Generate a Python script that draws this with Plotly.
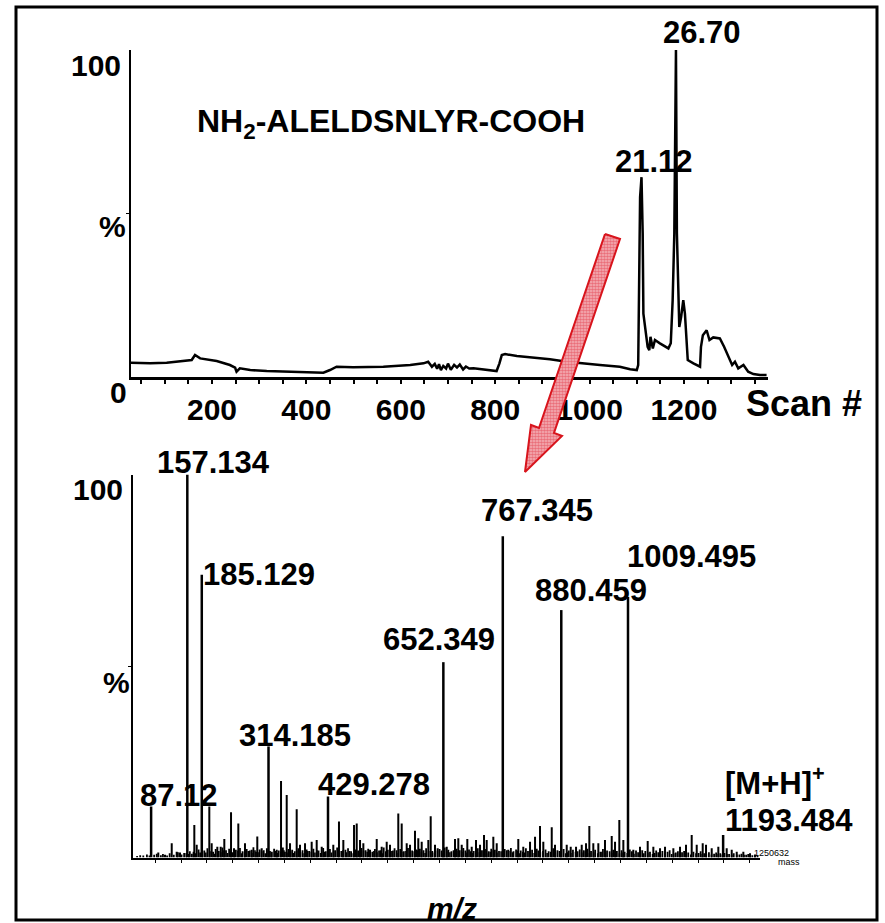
import plotly.graph_objects as go

W, H = 885, 923
FONT = "Arial, Liberation Sans, sans-serif"

# ---------------- top panel: chromatogram (scan # vs %) ----------------
scan = [28, 69, 104, 146, 157, 164, 175, 210, 238, 249,
        252, 259, 281, 316, 358, 401, 436, 450, 464, 499,
        563, 620, 648, 658, 666,
        672, 677, 681, 685, 690, 696, 700, 706, 713, 719, 725, 732, 738, 745,
        754, 803, 809, 814, 821, 846, 916, 952, 1022, 1064, 1086, 1100, 1103,
        1105, 1107, 1110, 1112.5, 1114, 1116, 1119, 1123, 1126.5, 1129, 1134, 1138.5,
        1149, 1167, 1172, 1176, 1179.5, 1183,
        1185, 1187, 1189, 1190, 1194, 1198.5, 1202, 1205, 1208, 1220, 1234, 1236,
        1240, 1248, 1254, 1262, 1276, 1285, 1294, 1302, 1308, 1315, 1326, 1336,
        1347, 1361, 1375]
tic = [4.36, 4.18, 4.36, 4.88, 5.18, 6.71, 5.70, 4.88, 3.66, 2.84,
       1.62, 2.65, 2.13, 1.83, 1.62, 1.43, 1.31, 2.13, 3.14, 2.96,
       3.14, 3.66, 4.18, 4.67, 3.14,
       4.0, 2.5, 3.9, 2.1, 3.4, 2.6, 4.1, 2.2, 3.7, 2.9, 3.8, 2.3, 3.2, 2.6,
       2.65, 1.83, 4.18, 6.71, 7.01, 6.40, 5.40, 4.67, 3.66, 3.14, 2.35, 2.13, 3.66,
       33.6, 55.0, 61.1, 43.9, 19.4, 17.4, 13.4, 9.24, 8.23, 12.3, 8.75, 11.3,
       10.3, 8.75, 10.3, 23.5, 43.8, 100.0,
       43.9, 28.6, 23.5, 15.3, 18.4, 23.5, 19.4, 12.3, 5.18, 4.18, 3.14, 9.24,
       12.8, 14.3, 11.3, 12.1, 11.8, 9.24, 6.19, 3.66, 4.67, 2.65, 3.66, 1.62,
       0.91, 0.61, 0.61]
scan_ticks = [200, 400, 600, 800, 1000, 1200]

# ---------------- bottom panel: MS/MS spectrum (m/z vs %) ----------------
major_mz = [87.12, 157.134, 185.129, 314.185, 429.278, 652.349, 767.345, 880.459, 1009.495, 1193.484]
major_int = [13.3, 100.0, 73.8, 29.0, 15.9, 51.0, 83.9, 64.6, 68.0, 5.9]

minor_mz = [101.0, 114.0, 127.0, 136.6, 143.0, 170.7, 175.3, 199.7, 204.3, 215.2,
            221.7, 228.7, 241.7, 247.5, 255.8, 268.7, 281.7, 292.5, 301.0, 320.4,
            330.0, 338.4, 349.4, 355.8, 368.7, 375.1, 384.8, 397.7, 407.4, 417.1,
            439.5, 450.5, 458.9, 479.6, 484.8, 491.2, 497.6, 510.5, 523.5, 533.1,
            542.8, 549.2, 565.2, 571.8, 581.5, 587.9, 597.5, 603.9, 610.5, 623.3,
            627.9, 636.2, 641.4, 658.9, 674.9, 681.3, 687.9, 698.7, 707.2, 715.5,
            723.3, 731.0, 736.2, 749.0, 755.6, 778.0, 797.3, 807.0, 820.0, 829.7,
            839.3, 845.7, 862.0, 868.3, 891.0, 898.7, 909.0, 920.0, 928.3, 934.7,
            942.4, 952.1, 965.0, 978.0, 984.4, 992.7, 1000.5, 1019.8, 1032.7, 1047.6,
            1058.5, 1071.4, 1081.1, 1097.2, 1110.1, 1121.7, 1132.7, 1142.4, 1154.0, 1160.4,
            1171.4, 1184.2, 1200.4, 1210.1, 1219.8, 1232.6, 1245.5, 1255.2]
minor_int = [1.3, 0.7, 3.7, 1.5, 1.3, 8.5, 3.3, 13.3, 3.7, 2.8,
             2.8, 4.8, 11.8, 2.4, 8.9, 3.7, 2.0, 5.5, 2.4, 1.5,
             2.0, 20.0, 16.3, 3.7, 12.6, 3.3, 3.7, 4.1, 4.6, 2.8,
             3.3, 9.4, 4.6, 8.5, 8.9, 4.6, 3.7, 2.0, 4.8, 2.8,
             4.1, 3.3, 11.5, 8.9, 3.7, 3.3, 7.0, 5.0, 4.1, 4.6,
             10.8, 3.3, 2.4, 2.8, 4.8, 5.0, 3.3, 4.8, 2.8, 4.6,
             3.3, 5.9, 4.6, 5.4, 3.7, 2.0, 4.8, 2.8, 4.1, 5.4,
             8.2, 4.1, 7.9, 3.3, 3.3, 2.8, 2.8, 3.3, 3.7, 8.2,
             3.7, 3.7, 4.6, 5.6, 4.1, 9.8, 4.6, 2.0, 2.8, 4.3,
             2.8, 2.4, 2.8, 2.4, 2.8, 3.3, 5.9, 3.3, 3.7, 3.3,
             2.4, 2.8, 2.4, 2.0, 1.5, 1.5, 1.1, 0.8]

noise_mz = [60, 66, 72, 79, 84, 93, 98, 106, 110, 118,
            123, 131, 139, 146, 151, 162, 166, 179, 182, 190,
            196, 207, 212, 218, 225, 232, 238, 244, 251, 259,
            264, 272, 278, 285, 290, 297, 305, 311, 317, 325,
            334, 342, 346, 353, 360, 365, 372, 380, 388, 393,
            401, 411, 420, 425, 433, 443, 447, 455, 463, 468,
            474, 482, 488, 494, 502, 507, 515, 520, 528, 537,
            545, 553, 558, 562, 569, 576, 584, 592, 600, 607,
            614, 619, 631, 645, 649, 655, 662, 668, 678, 684,
            691, 695, 702, 711, 719, 727, 733, 740, 745, 752,
            760, 771, 775, 783, 788, 793, 802, 812, 816, 824,
            833, 836, 850, 856, 865, 873, 877, 885, 895, 903,
            912, 916, 924, 931, 938, 946, 956, 961, 969, 974,
            981, 988, 997, 1003, 1013, 1017, 1025, 1029, 1037, 1043,
            1052, 1064, 1068, 1076, 1086, 1090, 1102, 1106, 1114, 1118,
            1126, 1136, 1146, 1150, 1157, 1166, 1176, 1180, 1188, 1196,
            1205, 1214, 1225, 1229, 1238, 1242, 1250, 1260]
noise_int = [0.4, 0.6, 0.5, 0.8, 0.5, 0.7, 1.0, 0.6, 0.9, 0.5,
             1.1, 0.7, 1.4, 0.8, 1.2, 1.6, 1.0, 2.1, 1.3, 1.8,
             2.4, 1.5, 2.2, 1.7, 2.6, 1.9, 2.3, 1.4, 2.0, 2.5,
             1.6, 2.2, 1.8, 2.7, 1.5, 2.1, 1.9, 2.4, 1.7, 2.3,
             1.8, 2.6, 1.5, 2.2, 2.0, 1.6, 2.4, 1.9, 2.1, 1.7,
             2.3, 1.8, 2.5, 1.6, 2.2, 1.9, 2.6, 1.7, 2.0, 2.4,
             1.6, 2.1, 1.8, 2.5, 1.9, 2.3, 1.5, 2.2, 1.8, 2.6,
             2.0, 1.7, 2.4, 1.9, 2.2, 1.6, 2.5, 1.8, 2.1, 2.3,
             1.9, 2.4, 1.7, 2.2, 1.8, 2.6, 2.0, 1.6, 2.3, 1.9,
             2.5, 1.8, 2.1, 1.7, 2.4, 1.9, 2.2, 1.6, 2.3, 2.0,
             1.7, 2.2, 1.9, 2.5, 1.6, 2.1, 1.8, 2.4, 1.7, 2.0,
             2.3, 1.8, 2.1, 1.6, 2.4, 1.9, 1.7, 2.2, 1.8, 2.0,
             1.6, 2.1, 1.9, 2.3, 1.7, 2.0, 1.5, 2.2, 1.8, 1.6,
             2.0, 1.7, 1.9, 1.5, 2.1, 1.6, 1.8, 1.4, 1.9, 1.7,
             1.5, 1.8, 1.4, 1.7, 1.5, 1.9, 1.3, 1.6, 1.4, 1.7,
             1.3, 1.5, 1.2, 1.6, 1.1, 1.4, 1.0, 1.3, 1.1, 1.2,
             0.9, 1.1, 0.8, 1.0, 0.7, 0.9, 0.6, 0.5]

noise2_mz = [155, 160, 169, 173, 186, 193, 201, 210, 216, 222,
             228, 235, 241, 248, 255, 262, 268, 275, 282, 288,
             294, 301, 308, 314, 320, 328, 331, 338, 344, 350,
             357, 362, 369, 376, 383, 390, 397, 404, 408, 415,
             422, 429, 436, 440, 450, 458, 465, 471, 478, 485,
             491, 498, 505, 511, 518, 524, 531, 534, 541, 549,
             555, 565, 572, 580, 588, 596, 603, 610, 617, 624,
             628, 635, 641, 652, 659, 665, 672, 675, 681, 688,
             698, 705, 708, 715, 722, 730, 736, 743, 749, 756,
             764, 768, 779, 786, 796, 799, 806, 809, 819, 828,
             840, 845, 853, 860, 869, 880, 889, 892, 899, 908,
             920, 927, 935, 943, 951, 959, 966, 978, 985, 993,
             1000, 1008, 1021, 1033, 1040, 1048, 1057, 1061, 1072, 1081,
             1094, 1098, 1110, 1122, 1131, 1141, 1153, 1161, 1171, 1184,
             1192, 1201, 1210, 1220, 1234, 1246, 1255]
noise2_int = [1.2, 0.9, 1.5, 1.1, 1.8, 1.3, 1.6, 1.0, 1.7, 1.4,
              1.9, 1.2, 1.6, 1.3, 1.8, 1.1, 1.5, 1.7, 1.2, 1.9,
              1.4, 1.6, 1.1, 1.8, 1.3, 1.7, 1.2, 1.5, 1.9, 1.3,
              1.6, 1.2, 1.8, 1.4, 1.1, 1.7, 1.5, 1.3, 1.9, 1.2,
              1.5, 1.8, 1.3, 1.6, 1.2, 1.9, 1.4, 1.7, 1.1, 1.6,
              1.3, 1.8, 1.5, 1.2, 1.7, 1.4, 1.9, 1.1, 1.6, 1.3,
              1.8, 1.2, 1.5, 1.7, 1.3, 1.6, 1.9, 1.4, 1.2, 1.7,
              1.5, 1.3, 1.8, 1.1, 1.6, 1.4, 1.9, 1.2, 1.7, 1.5,
              1.3, 1.6, 1.2, 1.8, 1.4, 1.7, 1.1, 1.5, 1.9, 1.3,
              1.6, 1.2, 1.7, 1.4, 1.8, 1.1, 1.5, 1.3, 1.6, 1.2,
              1.4, 1.7, 1.2, 1.5, 1.3, 1.6, 1.1, 1.4, 1.2, 1.5,
              1.3, 1.6, 1.2, 1.4, 1.1, 1.5, 1.3, 1.2, 1.4, 1.1,
              1.3, 1.2, 1.0, 1.4, 1.1, 1.3, 0.9, 1.2, 1.0, 1.3,
              0.9, 1.1, 1.0, 1.2, 0.8, 1.1, 0.9, 1.0, 0.8, 0.9,
              0.8, 0.9, 0.7, 0.8, 0.7, 0.6, 0.6]


def sticks(xs, ys):
    sx, sy = [], []
    for a, b in zip(xs, ys):
        sx += [a, a, None]
        sy += [0, b, None]
    return sx, sy


fig = go.Figure()

fig.add_trace(go.Scatter(x=scan, y=tic, mode="lines", line=dict(color="black", width=2.5),
                         xaxis="x", yaxis="y", hoverinfo="skip"))

for xs, ys, lw in [(noise2_mz, noise2_int, 1.6), (noise_mz, noise_int, 1.8),
                   (minor_mz, minor_int, 2.0), (major_mz, major_int, 2.5)]:
    sx, sy = sticks(xs, ys)
    fig.add_trace(go.Scatter(x=sx, y=sy, mode="lines", line=dict(color="black", width=lw),
                             xaxis="x2", yaxis="y2", hoverinfo="skip"))

# red hatched arrow (decoration, drawn on a full-page pixel overlay axis)
arrow_x = [605, 620, 554, 562, 525, 531, 539, 605]
arrow_y = [234, 239, 433, 436, 472, 425, 428, 234]
fig.add_trace(go.Scatter(x=arrow_x, y=arrow_y, mode="lines", fill="toself",
                         line=dict(color="#D8141C", width=2),
                         fillpattern=dict(shape=".", fgcolor="#E02838", bgcolor="#F4B4BA",
                                          size=3, solidity=0.6),
                         xaxis="x3", yaxis="y3", hoverinfo="skip"))

tickfont = dict(family=FONT, size=30, color="black", weight="bold")
fig.update_layout(
    width=W, height=H, margin=dict(l=0, r=0, t=0, b=0),
    paper_bgcolor="white", plot_bgcolor="rgba(0,0,0,0)", showlegend=False,
    xaxis=dict(domain=[131 / W, 768 / W], range=[28.4, 1378], anchor="y",
               showline=True, linecolor="black", linewidth=3, showgrid=False, zeroline=False,
               tickmode="array", tickvals=scan_ticks, ticks="outside", ticklen=4, tickwidth=1.5,
               tickcolor="black", tickfont=tickfont, ticklabelstandoff=0,
               minor=dict(dtick=50, tick0=0, ticks="outside", ticklen=4, tickwidth=1.5,
                          tickcolor="black")),
    yaxis=dict(domain=[1 - 377 / H, 1 - 50 / H], range=[0, 100], anchor="x",
               showline=True, linecolor="black", linewidth=2, showgrid=False, zeroline=False,
               tickmode="array", tickvals=[50], ticks="outside", ticklen=3, tickcolor="black",
               showticklabels=False),
    xaxis2=dict(domain=[133 / W, 760 / W], range=[52.1, 1264.8], anchor="y2",
                showline=True, linecolor="black", linewidth=2, showgrid=False, zeroline=False,
                tickmode="linear", tick0=45, dtick=50, ticks="outside", ticklen=3, tickwidth=1.2,
                tickcolor="black", showticklabels=False),
    yaxis2=dict(domain=[1 - 857.5 / H, 1 - 474.5 / H], range=[0, 100], anchor="x2",
                showline=True, linecolor="black", linewidth=2, showgrid=False, zeroline=False,
                tickmode="array", tickvals=[50], ticks="outside", ticklen=3, tickcolor="black",
                showticklabels=False),
    xaxis3=dict(domain=[0, 1], range=[0, W], anchor="y3", visible=False, fixedrange=True),
    yaxis3=dict(domain=[0, 1], range=[H, 0], anchor="x3", visible=False, fixedrange=True),
)

anns = []


def ann(text, x, y, size=31, xanchor="center", yanchor="middle", family=FONT, weight="bold"):
    anns.append(dict(text=text, x=x / W, y=1 - y / H, xref="paper", yref="paper",
                     showarrow=False, xanchor=xanchor, yanchor=yanchor,
                     font=dict(family=family, size=size, color="black", weight=weight)))


# top panel texts
ann("100", 96, 65, 30)
ann("%", 112, 227, 30)
ann("0", 118, 392, 30)
ann("Scan #", 804, 403, 36)
ann("26.70", 701.5, 32.5, 31)
ann("21.12", 653.5, 161, 31)
ann("NH<sub>2</sub>-ALELDSNLYR-COOH", 195, 124, 32, xanchor="left")

# bottom panel texts
ann("100", 98, 489, 30)
ann("%", 116, 682, 30)
ann("157.134", 213, 462.5)
ann("185.129", 259, 574)
ann("314.185", 294.5, 735)
ann("87.12", 179, 795)
ann("429.278", 373.5, 784)
ann("652.349", 438.5, 639)
ann("767.345", 537, 511)
ann("880.459", 591, 590)
ann("1009.495", 691, 556)
ann("[M+H]<sup>+</sup>", 723, 781, xanchor="left")
ann("1193.484", 723, 820, xanchor="left")
ann("<i>m/z</i>", 452, 908, 30)
ann("1250632", 771, 853, 9, family="Liberation Sans Narrow, Arial Narrow, sans-serif", weight="normal")
ann("mass", 789, 862, 9, family="Liberation Sans Narrow, Arial Narrow, sans-serif", weight="normal")

fig.update_layout(annotations=anns,
                  shapes=[dict(type="rect", xref="paper", yref="paper",
                               x0=16 / W, x1=877 / W, y0=1 - 920 / H, y1=1 - 7 / H,
                               line=dict(color="black", width=3), fillcolor="rgba(0,0,0,0)",
                               layer="above")])

fig.write_html("out.html", config={"displayModeBar": False},
               post_script="document.body.style.margin='0';document.body.style.overflow='hidden';")
